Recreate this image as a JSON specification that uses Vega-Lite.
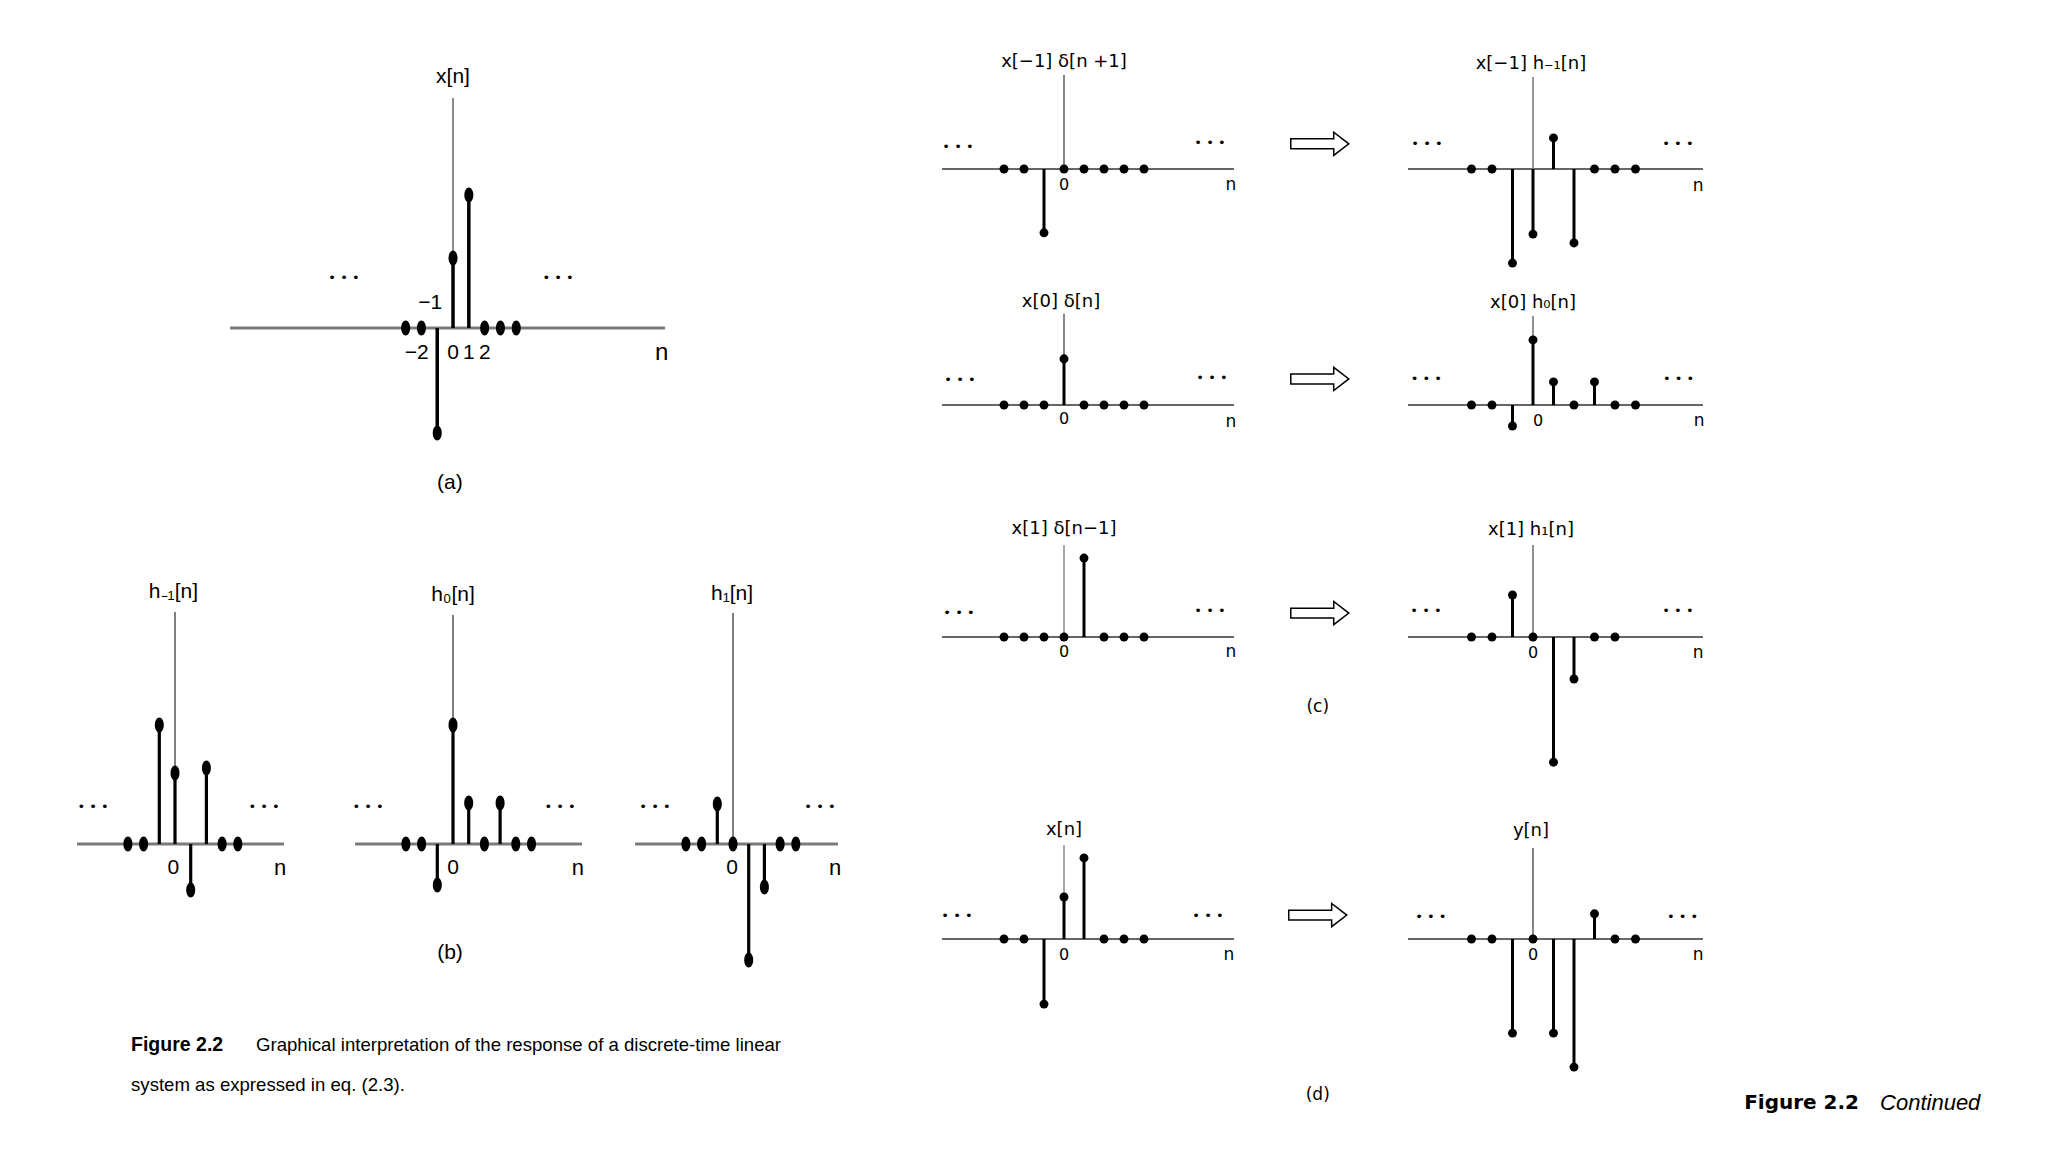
{
"$schema":"https://vega.github.io/schema/vega-lite/v6.json",
"padding":0,
"background":"white",
"config":{"view":{"stroke":null},"axis":{"disable":true},"text":{"font":"DejaVu Sans","fontSize":16,"color":"black"}},
"datasets":{
"one":[{}],
"a":[{"n":-3,"v":0},{"n":-2,"v":0},{"n":-1,"v":-1.5},{"n":0,"v":1},{"n":1,"v":1.9},{"n":2,"v":0},{"n":3,"v":0},{"n":4,"v":0}],
"hm1":[{"n":-3,"v":0},{"n":-2,"v":0},{"n":-1,"v":2.975},{"n":0,"v":1.775},{"n":1,"v":-1.15},{"n":2,"v":1.9},{"n":3,"v":0},{"n":4,"v":0}],
"h0":[{"n":-3,"v":0},{"n":-2,"v":0},{"n":-1,"v":-1.025},{"n":0,"v":2.975},{"n":1,"v":1.025},{"n":2,"v":0},{"n":3,"v":1.025},{"n":4,"v":0},{"n":5,"v":0}],
"h1":[{"n":-3,"v":0},{"n":-2,"v":0},{"n":-1,"v":1.0},{"n":0,"v":0},{"n":1,"v":-2.9},{"n":2,"v":-1.075},{"n":3,"v":0},{"n":4,"v":0}],
"c1l":[{"n":-3,"v":0},{"n":-2,"v":0},{"n":-1,"v":-1.52},{"n":0,"v":0},{"n":1,"v":0},{"n":2,"v":0},{"n":3,"v":0},{"n":4,"v":0}],
"c1r":[{"n":-3,"v":0},{"n":-2,"v":0},{"n":-1,"v":-2.24},{"n":0,"v":-1.55},{"n":1,"v":0.74},{"n":2,"v":-1.76},{"n":3,"v":0},{"n":4,"v":0},{"n":5,"v":0}],
"c2l":[{"n":-3,"v":0},{"n":-2,"v":0},{"n":-1,"v":0},{"n":0,"v":1.1},{"n":1,"v":0},{"n":2,"v":0},{"n":3,"v":0},{"n":4,"v":0}],
"c2r":[{"n":-3,"v":0},{"n":-2,"v":0},{"n":-1,"v":-0.5},{"n":0,"v":1.55},{"n":1,"v":0.55},{"n":2,"v":0},{"n":3,"v":0.55},{"n":4,"v":0},{"n":5,"v":0}],
"c3l":[{"n":-3,"v":0},{"n":-2,"v":0},{"n":-1,"v":0},{"n":0,"v":0},{"n":1,"v":1.88},{"n":2,"v":0},{"n":3,"v":0},{"n":4,"v":0}],
"c3r":[{"n":-3,"v":0},{"n":-2,"v":0},{"n":-1,"v":1.0},{"n":0,"v":0},{"n":1,"v":-2.98},{"n":2,"v":-1.0},{"n":3,"v":0},{"n":4,"v":0}],
"dl":[{"n":-3,"v":0},{"n":-2,"v":0},{"n":-1,"v":-1.55},{"n":0,"v":1.0},{"n":1,"v":1.93},{"n":2,"v":0},{"n":3,"v":0},{"n":4,"v":0}],
"dr":[{"n":-3,"v":0},{"n":-2,"v":0},{"n":-1,"v":-2.24},{"n":0,"v":0},{"n":1,"v":-2.24},{"n":2,"v":-3.05},{"n":3,"v":0.6},{"n":4,"v":0},{"n":5,"v":0}]
},
"bounds":"full",
"spacing":0,
"hconcat":[
{"bounds":"full","spacing":0,"vconcat":[
{"width":700,"height":560,"layer":[
{"data":{"name":"one"},"mark":{"type":"rule","color":"#7a7a7a","strokeWidth":2.8},"encoding":{"x":{"datum":-14.11,"type":"quantitative","scale":{"domain":[-28.67,15.63],"nice":false,"zero":false}},"x2":{"datum":13.42},"y":{"datum":0,"type":"quantitative","scale":{"domain":[-3.314,4.686],"nice":false,"zero":false}}}},
{"data":{"name":"one"},"mark":{"type":"rule","color":"#666","strokeWidth":1.5},"encoding":{"x":{"datum":0,"type":"quantitative"},"y":{"datum":0,"type":"quantitative"},"y2":{"datum":3.286}}},
{"data":{"name":"a"},"mark":{"type":"rule","color":"black","strokeWidth":3.5},"encoding":{"x":{"field":"n","type":"quantitative"},"y":{"field":"v","type":"quantitative"},"y2":{"datum":0}}},
{"data":{"name":"a"},"mark":{"type":"point","filled":true,"opacity":1,"color":"black","shape":"M0,-1A0.6,1,0,1,1,0,1A0.6,1,0,1,1,0,-1Z","size":225},"encoding":{"x":{"field":"n","type":"quantitative"},"y":{"field":"v","type":"quantitative"}}},
{"data":{"name":"one"},"mark":{"type":"text","text":"x[n]","font":"Liberation Sans","fontSize":21},"encoding":{"x":{"datum":0,"type":"quantitative"},"y":{"datum":3.59,"type":"quantitative"}}},
{"data":{"name":"one"},"mark":{"type":"text","text":"−2","font":"Liberation Sans","fontSize":21},"encoding":{"x":{"datum":-2.3,"type":"quantitative"},"y":{"datum":-0.36,"type":"quantitative"}}},
{"data":{"name":"one"},"mark":{"type":"text","text":"0","font":"Liberation Sans","fontSize":21},"encoding":{"x":{"datum":0,"type":"quantitative"},"y":{"datum":-0.36,"type":"quantitative"}}},
{"data":{"name":"one"},"mark":{"type":"text","text":"1","font":"Liberation Sans","fontSize":21},"encoding":{"x":{"datum":1.0,"type":"quantitative"},"y":{"datum":-0.36,"type":"quantitative"}}},
{"data":{"name":"one"},"mark":{"type":"text","text":"2","font":"Liberation Sans","fontSize":21},"encoding":{"x":{"datum":2.02,"type":"quantitative"},"y":{"datum":-0.36,"type":"quantitative"}}},
{"data":{"name":"one"},"mark":{"type":"text","text":"−1","font":"Liberation Sans","fontSize":21},"encoding":{"x":{"datum":-1.45,"type":"quantitative"},"y":{"datum":0.36,"type":"quantitative"}}},
{"data":{"name":"one"},"mark":{"type":"text","text":"n","font":"Liberation Sans","fontSize":24},"encoding":{"x":{"datum":13.2,"type":"quantitative"},"y":{"datum":-0.36,"type":"quantitative"}}},
{"data":{"name":"one"},"mark":{"type":"text","text":"• • •","fontSize":13},"encoding":{"x":{"datum":-6.9,"type":"quantitative"},"y":{"datum":0.714,"type":"quantitative"}}},
{"data":{"name":"one"},"mark":{"type":"text","text":"• • •","fontSize":13},"encoding":{"x":{"datum":6.65,"type":"quantitative"},"y":{"datum":0.714,"type":"quantitative"}}},
{"data":{"name":"one"},"mark":{"type":"text","text":"(a)","font":"Liberation Sans","fontSize":21},"encoding":{"x":{"datum":-0.2,"type":"quantitative"},"y":{"datum":-2.214,"type":"quantitative"}}}
]},
{"bounds":"flush","spacing":0,"hconcat":[
{"width":355,"height":592,"layer":[
{"data":{"name":"one"},"mark":{"type":"rule","color":"#7a7a7a","strokeWidth":2.8},"encoding":{"x":{"datum":-6.24,"type":"quantitative","scale":{"domain":[-11.146,11.465],"nice":false,"zero":false}},"x2":{"datum":6.94},"y":{"datum":0,"type":"quantitative","scale":{"domain":[-7.7,7.1],"nice":false,"zero":false}}}},
{"data":{"name":"one"},"mark":{"type":"rule","color":"#555","strokeWidth":1.5},"encoding":{"x":{"datum":0,"type":"quantitative"},"y":{"datum":0,"type":"quantitative"},"y2":{"datum":5.8}}},
{"data":{"name":"hm1"},"mark":{"type":"rule","color":"black","strokeWidth":3.2},"encoding":{"x":{"field":"n","type":"quantitative"},"y":{"field":"v","type":"quantitative"},"y2":{"datum":0}}},
{"data":{"name":"hm1"},"mark":{"type":"point","filled":true,"opacity":1,"color":"black","shape":"M0,-1A0.6,1,0,1,1,0,1A0.6,1,0,1,1,0,-1Z","size":225},"encoding":{"x":{"field":"n","type":"quantitative"},"y":{"field":"v","type":"quantitative"}}},
{"data":{"name":"one"},"mark":{"type":"text","text":"h₋₁[n]","font":"Liberation Sans","fontSize":21},"encoding":{"x":{"datum":-0.1,"type":"quantitative"},"y":{"datum":6.3,"type":"quantitative"}}},
{"data":{"name":"one"},"mark":{"type":"text","text":"0","font":"Liberation Sans","fontSize":21},"encoding":{"x":{"datum":-0.1,"type":"quantitative"},"y":{"datum":-0.6,"type":"quantitative"}}},
{"data":{"name":"one"},"mark":{"type":"text","text":"n","font":"Liberation Sans","fontSize":22},"encoding":{"x":{"datum":6.69,"type":"quantitative"},"y":{"datum":-0.6,"type":"quantitative"}}},
{"data":{"name":"one"},"mark":{"type":"text","text":"• • •","fontSize":13},"encoding":{"x":{"datum":-5.22,"type":"quantitative"},"y":{"datum":0.925,"type":"quantitative"}}},
{"data":{"name":"one"},"mark":{"type":"text","text":"• • •","fontSize":13},"encoding":{"x":{"datum":5.67,"type":"quantitative"},"y":{"datum":0.925,"type":"quantitative"}}},
{"data":{"name":"one"},"mark":{"type":"text","text":"Figure 2.2","font":"Liberation Sans","fontSize":19.5,"fontWeight":"bold","align":"left"},"encoding":{"x":{"datum":-2.8,"type":"quantitative"},"y":{"datum":-5.025,"type":"quantitative"}}},
{"data":{"name":"one"},"mark":{"type":"text","text":"Graphical interpretation of the response of a discrete-time linear","font":"Liberation Sans","fontSize":18.6,"align":"left"},"encoding":{"x":{"datum":5.16,"type":"quantitative"},"y":{"datum":-5.025,"type":"quantitative"}}},
{"data":{"name":"one"},"mark":{"type":"text","text":"system as expressed in eq. (2.3).","font":"Liberation Sans","fontSize":18.6,"align":"left"},"encoding":{"x":{"datum":-2.8,"type":"quantitative"},"y":{"datum":-6.025,"type":"quantitative"}}}
]},
{"width":280,"height":592,"layer":[
{"data":{"name":"one"},"mark":{"type":"rule","color":"#7a7a7a","strokeWidth":2.8},"encoding":{"x":{"datum":-6.24,"type":"quantitative","scale":{"domain":[-6.242,11.592],"nice":false,"zero":false}},"x2":{"datum":8.22},"y":{"datum":0,"type":"quantitative","scale":{"domain":[-7.7,7.1],"nice":false,"zero":false}}}},
{"data":{"name":"one"},"mark":{"type":"rule","color":"#555","strokeWidth":1.5},"encoding":{"x":{"datum":0,"type":"quantitative"},"y":{"datum":0,"type":"quantitative"},"y2":{"datum":5.725}}},
{"data":{"name":"h0"},"mark":{"type":"rule","color":"black","strokeWidth":3.2},"encoding":{"x":{"field":"n","type":"quantitative"},"y":{"field":"v","type":"quantitative"},"y2":{"datum":0}}},
{"data":{"name":"h0"},"mark":{"type":"point","filled":true,"opacity":1,"color":"black","shape":"M0,-1A0.6,1,0,1,1,0,1A0.6,1,0,1,1,0,-1Z","size":225},"encoding":{"x":{"field":"n","type":"quantitative"},"y":{"field":"v","type":"quantitative"}}},
{"data":{"name":"one"},"mark":{"type":"text","text":"h₀[n]","font":"Liberation Sans","fontSize":21},"encoding":{"x":{"datum":0,"type":"quantitative"},"y":{"datum":6.225,"type":"quantitative"}}},
{"data":{"name":"one"},"mark":{"type":"text","text":"0","font":"Liberation Sans","fontSize":21},"encoding":{"x":{"datum":0,"type":"quantitative"},"y":{"datum":-0.6,"type":"quantitative"}}},
{"data":{"name":"one"},"mark":{"type":"text","text":"n","font":"Liberation Sans","fontSize":22},"encoding":{"x":{"datum":7.96,"type":"quantitative"},"y":{"datum":-0.6,"type":"quantitative"}}},
{"data":{"name":"one"},"mark":{"type":"text","text":"• • •","fontSize":13},"encoding":{"x":{"datum":-5.41,"type":"quantitative"},"y":{"datum":0.925,"type":"quantitative"}}},
{"data":{"name":"one"},"mark":{"type":"text","text":"• • •","fontSize":13},"encoding":{"x":{"datum":6.82,"type":"quantitative"},"y":{"datum":0.925,"type":"quantitative"}}},
{"data":{"name":"one"},"mark":{"type":"text","text":"(b)","font":"Liberation Sans","fontSize":21},"encoding":{"x":{"datum":-0.19,"type":"quantitative"},"y":{"datum":-2.725,"type":"quantitative"}}}
]},
{"width":306,"height":592,"layer":[
{"data":{"name":"one"},"mark":{"type":"rule","color":"#7a7a7a","strokeWidth":2.8},"encoding":{"x":{"datum":-6.24,"type":"quantitative","scale":{"domain":[-6.242,13.248],"nice":false,"zero":false}},"x2":{"datum":6.69},"y":{"datum":0,"type":"quantitative","scale":{"domain":[-7.7,7.1],"nice":false,"zero":false}}}},
{"data":{"name":"one"},"mark":{"type":"rule","color":"#555","strokeWidth":1.5},"encoding":{"x":{"datum":0,"type":"quantitative"},"y":{"datum":0,"type":"quantitative"},"y2":{"datum":5.775}}},
{"data":{"name":"h1"},"mark":{"type":"rule","color":"black","strokeWidth":3.2},"encoding":{"x":{"field":"n","type":"quantitative"},"y":{"field":"v","type":"quantitative"},"y2":{"datum":0}}},
{"data":{"name":"h1"},"mark":{"type":"point","filled":true,"opacity":1,"color":"black","shape":"M0,-1A0.6,1,0,1,1,0,1A0.6,1,0,1,1,0,-1Z","size":225},"encoding":{"x":{"field":"n","type":"quantitative"},"y":{"field":"v","type":"quantitative"}}},
{"data":{"name":"one"},"mark":{"type":"text","text":"h₁[n]","font":"Liberation Sans","fontSize":21},"encoding":{"x":{"datum":-0.06,"type":"quantitative"},"y":{"datum":6.25,"type":"quantitative"}}},
{"data":{"name":"one"},"mark":{"type":"text","text":"0","font":"Liberation Sans","fontSize":21},"encoding":{"x":{"datum":-0.06,"type":"quantitative"},"y":{"datum":-0.6,"type":"quantitative"}}},
{"data":{"name":"one"},"mark":{"type":"text","text":"n","font":"Liberation Sans","fontSize":22},"encoding":{"x":{"datum":6.5,"type":"quantitative"},"y":{"datum":-0.6,"type":"quantitative"}}},
{"data":{"name":"one"},"mark":{"type":"text","text":"• • •","fontSize":13},"encoding":{"x":{"datum":-4.97,"type":"quantitative"},"y":{"datum":0.925,"type":"quantitative"}}},
{"data":{"name":"one"},"mark":{"type":"text","text":"• • •","fontSize":13},"encoding":{"x":{"datum":5.54,"type":"quantitative"},"y":{"datum":0.925,"type":"quantitative"}}}
]}
]}
]},
{"bounds":"full","spacing":0,"vconcat":[
{"bounds":"flush","spacing":0,"hconcat":[
{"width":292,"height":285,"layer":[
{"data":{"name":"one"},"mark":{"type":"rule","color":"#333","strokeWidth":1.5},"encoding":{"x":{"datum":-6.1,"type":"quantitative","scale":{"domain":[-6.1,8.5],"nice":false,"zero":false}},"x2":{"datum":8.5},"y":{"datum":0,"type":"quantitative","scale":{"domain":[-2.762,4.024],"nice":false,"zero":false}}}},
{"data":{"name":"one"},"mark":{"type":"rule","color":"#444","strokeWidth":1.3},"encoding":{"x":{"datum":0,"type":"quantitative"},"y":{"datum":0,"type":"quantitative"},"y2":{"datum":2.24}}},
{"data":{"name":"c1l"},"mark":{"type":"rule","color":"black","strokeWidth":3},"encoding":{"x":{"field":"n","type":"quantitative"},"y":{"field":"v","type":"quantitative"},"y2":{"datum":0}}},
{"data":{"name":"c1l"},"mark":{"type":"point","filled":true,"opacity":1,"color":"black","shape":"circle","size":80},"encoding":{"x":{"field":"n","type":"quantitative"},"y":{"field":"v","type":"quantitative"}}},
{"data":{"name":"one"},"mark":{"type":"text","text":"x[−1] δ[n +1]","fontSize":18},"encoding":{"x":{"datum":0,"type":"quantitative"},"y":{"datum":2.55,"type":"quantitative"}}},
{"data":{"name":"one"},"mark":{"type":"text","text":"0"},"encoding":{"x":{"datum":0,"type":"quantitative"},"y":{"datum":-0.38,"type":"quantitative"}}},
{"data":{"name":"one"},"mark":{"type":"text","text":"n","fontSize":17},"encoding":{"x":{"datum":8.35,"type":"quantitative"},"y":{"datum":-0.38,"type":"quantitative"}}},
{"data":{"name":"one"},"mark":{"type":"text","text":"• • •","fontSize":13},"encoding":{"x":{"datum":-5.3,"type":"quantitative"},"y":{"datum":0.52,"type":"quantitative"}}},
{"data":{"name":"one"},"mark":{"type":"text","text":"• • •","fontSize":13},"encoding":{"x":{"datum":7.3,"type":"quantitative"},"y":{"datum":0.62,"type":"quantitative"}}}
]},
{"width":815,"height":285,"layer":[
{"data":{"name":"one"},"mark":{"type":"rule","color":"#333","strokeWidth":1.5},"encoding":{"x":{"datum":-6.1,"type":"quantitative","scale":{"domain":[-14.585,25.171],"nice":false,"zero":false}},"x2":{"datum":8.29},"y":{"datum":0,"type":"quantitative","scale":{"domain":[-2.762,4.024],"nice":false,"zero":false}}}},
{"data":{"name":"one"},"mark":{"type":"rule","color":"#777","strokeWidth":1.5},"encoding":{"x":{"datum":0,"type":"quantitative"},"y":{"datum":0,"type":"quantitative"},"y2":{"datum":2.19}}},
{"data":{"name":"c1r"},"mark":{"type":"rule","color":"black","strokeWidth":3},"encoding":{"x":{"field":"n","type":"quantitative"},"y":{"field":"v","type":"quantitative"},"y2":{"datum":0}}},
{"data":{"name":"c1r"},"mark":{"type":"point","filled":true,"opacity":1,"color":"black","shape":"circle","size":80},"encoding":{"x":{"field":"n","type":"quantitative"},"y":{"field":"v","type":"quantitative"}}},
{"data":{"name":"one"},"mark":{"type":"text","text":"x[−1] h₋₁[n]","fontSize":18},"encoding":{"x":{"datum":-0.1,"type":"quantitative"},"y":{"datum":2.5,"type":"quantitative"}}},
{"data":{"name":"one"},"mark":{"type":"text","text":"n","fontSize":17},"encoding":{"x":{"datum":8.05,"type":"quantitative"},"y":{"datum":-0.4,"type":"quantitative"}}},
{"data":{"name":"one"},"mark":{"type":"text","text":"• • •","fontSize":13},"encoding":{"x":{"datum":-5.17,"type":"quantitative"},"y":{"datum":0.6,"type":"quantitative"}}},
{"data":{"name":"one"},"mark":{"type":"text","text":"• • •","fontSize":13},"encoding":{"x":{"datum":7.07,"type":"quantitative"},"y":{"datum":0.6,"type":"quantitative"}}},
{"data":{"name":"one"},"mark":{"type":"point","filled":true,"opacity":1,"fill":"white","stroke":"black","strokeWidth":1.5,"shape":"M-1,-0.17L0.48,-0.17L0.48,-0.4L1,0L0.48,0.4L0.48,0.17L-1,0.17Z","size":3364},"encoding":{"x":{"datum":-10.4,"type":"quantitative"},"y":{"datum":0.6,"type":"quantitative"}}}
]}
]},
{"bounds":"flush","spacing":0,"hconcat":[
{"width":292,"height":215,"layer":[
{"data":{"name":"one"},"mark":{"type":"rule","color":"#333","strokeWidth":1.5},"encoding":{"x":{"datum":-6.1,"type":"quantitative","scale":{"domain":[-6.1,8.5],"nice":false,"zero":false}},"x2":{"datum":8.5},"y":{"datum":0,"type":"quantitative","scale":{"domain":[-2.262,2.857],"nice":false,"zero":false}}}},
{"data":{"name":"one"},"mark":{"type":"rule","color":"#444","strokeWidth":1.3},"encoding":{"x":{"datum":0,"type":"quantitative"},"y":{"datum":0,"type":"quantitative"},"y2":{"datum":2.17}}},
{"data":{"name":"c2l"},"mark":{"type":"rule","color":"black","strokeWidth":3},"encoding":{"x":{"field":"n","type":"quantitative"},"y":{"field":"v","type":"quantitative"},"y2":{"datum":0}}},
{"data":{"name":"c2l"},"mark":{"type":"point","filled":true,"opacity":1,"color":"black","shape":"circle","size":80},"encoding":{"x":{"field":"n","type":"quantitative"},"y":{"field":"v","type":"quantitative"}}},
{"data":{"name":"one"},"mark":{"type":"text","text":"x[0] δ[n]","fontSize":18},"encoding":{"x":{"datum":-0.15,"type":"quantitative"},"y":{"datum":2.45,"type":"quantitative"}}},
{"data":{"name":"one"},"mark":{"type":"text","text":"0"},"encoding":{"x":{"datum":0,"type":"quantitative"},"y":{"datum":-0.33,"type":"quantitative"}}},
{"data":{"name":"one"},"mark":{"type":"text","text":"n","fontSize":17},"encoding":{"x":{"datum":8.35,"type":"quantitative"},"y":{"datum":-0.4,"type":"quantitative"}}},
{"data":{"name":"one"},"mark":{"type":"text","text":"• • •","fontSize":13},"encoding":{"x":{"datum":-5.2,"type":"quantitative"},"y":{"datum":0.6,"type":"quantitative"}}},
{"data":{"name":"one"},"mark":{"type":"text","text":"• • •","fontSize":13},"encoding":{"x":{"datum":7.4,"type":"quantitative"},"y":{"datum":0.64,"type":"quantitative"}}}
]},
{"width":815,"height":215,"layer":[
{"data":{"name":"one"},"mark":{"type":"rule","color":"#333","strokeWidth":1.5},"encoding":{"x":{"datum":-6.1,"type":"quantitative","scale":{"domain":[-14.585,25.171],"nice":false,"zero":false}},"x2":{"datum":8.29},"y":{"datum":0,"type":"quantitative","scale":{"domain":[-2.262,2.857],"nice":false,"zero":false}}}},
{"data":{"name":"one"},"mark":{"type":"rule","color":"#555","strokeWidth":1.3},"encoding":{"x":{"datum":0,"type":"quantitative"},"y":{"datum":0,"type":"quantitative"},"y2":{"datum":2.12}}},
{"data":{"name":"c2r"},"mark":{"type":"rule","color":"black","strokeWidth":3},"encoding":{"x":{"field":"n","type":"quantitative"},"y":{"field":"v","type":"quantitative"},"y2":{"datum":0}}},
{"data":{"name":"c2r"},"mark":{"type":"point","filled":true,"opacity":1,"color":"black","shape":"circle","size":80},"encoding":{"x":{"field":"n","type":"quantitative"},"y":{"field":"v","type":"quantitative"}}},
{"data":{"name":"one"},"mark":{"type":"text","text":"x[0] h₀[n]","fontSize":18},"encoding":{"x":{"datum":0,"type":"quantitative"},"y":{"datum":2.43,"type":"quantitative"}}},
{"data":{"name":"one"},"mark":{"type":"text","text":"0"},"encoding":{"x":{"datum":0.25,"type":"quantitative"},"y":{"datum":-0.38,"type":"quantitative"}}},
{"data":{"name":"one"},"mark":{"type":"text","text":"n","fontSize":17},"encoding":{"x":{"datum":8.1,"type":"quantitative"},"y":{"datum":-0.38,"type":"quantitative"}}},
{"data":{"name":"one"},"mark":{"type":"text","text":"• • •","fontSize":13},"encoding":{"x":{"datum":-5.2,"type":"quantitative"},"y":{"datum":0.62,"type":"quantitative"}}},
{"data":{"name":"one"},"mark":{"type":"text","text":"• • •","fontSize":13},"encoding":{"x":{"datum":7.1,"type":"quantitative"},"y":{"datum":0.62,"type":"quantitative"}}},
{"data":{"name":"one"},"mark":{"type":"point","filled":true,"opacity":1,"fill":"white","stroke":"black","strokeWidth":1.5,"shape":"M-1,-0.17L0.48,-0.17L0.48,-0.4L1,0L0.48,0.4L0.48,0.17L-1,0.17Z","size":3364},"encoding":{"x":{"datum":-10.4,"type":"quantitative"},"y":{"datum":0.62,"type":"quantitative"}}}
]}
]},
{"bounds":"flush","spacing":0,"hconcat":[
{"width":292,"height":300,"layer":[
{"data":{"name":"one"},"mark":{"type":"rule","color":"#333","strokeWidth":1.5},"encoding":{"x":{"datum":-6.1,"type":"quantitative","scale":{"domain":[-6.1,8.5],"nice":false,"zero":false}},"x2":{"datum":8.5},"y":{"datum":0,"type":"quantitative","scale":{"domain":[-3.881,3.262],"nice":false,"zero":false}}}},
{"data":{"name":"one"},"mark":{"type":"rule","color":"#777","strokeWidth":1.3},"encoding":{"x":{"datum":0,"type":"quantitative"},"y":{"datum":0,"type":"quantitative"},"y2":{"datum":2.19}}},
{"data":{"name":"c3l"},"mark":{"type":"rule","color":"black","strokeWidth":3},"encoding":{"x":{"field":"n","type":"quantitative"},"y":{"field":"v","type":"quantitative"},"y2":{"datum":0}}},
{"data":{"name":"c3l"},"mark":{"type":"point","filled":true,"opacity":1,"color":"black","shape":"circle","size":80},"encoding":{"x":{"field":"n","type":"quantitative"},"y":{"field":"v","type":"quantitative"}}},
{"data":{"name":"one"},"mark":{"type":"text","text":"x[1] δ[n−1]","fontSize":18},"encoding":{"x":{"datum":0,"type":"quantitative"},"y":{"datum":2.57,"type":"quantitative"}}},
{"data":{"name":"one"},"mark":{"type":"text","text":"0"},"encoding":{"x":{"datum":0,"type":"quantitative"},"y":{"datum":-0.36,"type":"quantitative"}}},
{"data":{"name":"one"},"mark":{"type":"text","text":"n","fontSize":17},"encoding":{"x":{"datum":8.35,"type":"quantitative"},"y":{"datum":-0.36,"type":"quantitative"}}},
{"data":{"name":"one"},"mark":{"type":"text","text":"• • •","fontSize":13},"encoding":{"x":{"datum":-5.25,"type":"quantitative"},"y":{"datum":0.57,"type":"quantitative"}}},
{"data":{"name":"one"},"mark":{"type":"text","text":"• • •","fontSize":13},"encoding":{"x":{"datum":7.3,"type":"quantitative"},"y":{"datum":0.62,"type":"quantitative"}}}
]},
{"width":815,"height":300,"layer":[
{"data":{"name":"one"},"mark":{"type":"rule","color":"#333","strokeWidth":1.5},"encoding":{"x":{"datum":-6.1,"type":"quantitative","scale":{"domain":[-14.585,25.171],"nice":false,"zero":false}},"x2":{"datum":8.29},"y":{"datum":0,"type":"quantitative","scale":{"domain":[-3.881,3.262],"nice":false,"zero":false}}}},
{"data":{"name":"one"},"mark":{"type":"rule","color":"#555","strokeWidth":1.3},"encoding":{"x":{"datum":0,"type":"quantitative"},"y":{"datum":0,"type":"quantitative"},"y2":{"datum":2.19}}},
{"data":{"name":"c3r"},"mark":{"type":"rule","color":"black","strokeWidth":3},"encoding":{"x":{"field":"n","type":"quantitative"},"y":{"field":"v","type":"quantitative"},"y2":{"datum":0}}},
{"data":{"name":"c3r"},"mark":{"type":"point","filled":true,"opacity":1,"color":"black","shape":"circle","size":80},"encoding":{"x":{"field":"n","type":"quantitative"},"y":{"field":"v","type":"quantitative"}}},
{"data":{"name":"one"},"mark":{"type":"text","text":"x[1] h₁[n]","fontSize":18},"encoding":{"x":{"datum":-0.1,"type":"quantitative"},"y":{"datum":2.55,"type":"quantitative"}}},
{"data":{"name":"one"},"mark":{"type":"text","text":"0"},"encoding":{"x":{"datum":0,"type":"quantitative"},"y":{"datum":-0.38,"type":"quantitative"}}},
{"data":{"name":"one"},"mark":{"type":"text","text":"n","fontSize":17},"encoding":{"x":{"datum":8.05,"type":"quantitative"},"y":{"datum":-0.38,"type":"quantitative"}}},
{"data":{"name":"one"},"mark":{"type":"text","text":"• • •","fontSize":13},"encoding":{"x":{"datum":-5.22,"type":"quantitative"},"y":{"datum":0.62,"type":"quantitative"}}},
{"data":{"name":"one"},"mark":{"type":"text","text":"• • •","fontSize":13},"encoding":{"x":{"datum":7.07,"type":"quantitative"},"y":{"datum":0.62,"type":"quantitative"}}},
{"data":{"name":"one"},"mark":{"type":"point","filled":true,"opacity":1,"fill":"white","stroke":"black","strokeWidth":1.5,"shape":"M-1,-0.17L0.48,-0.17L0.48,-0.4L1,0L0.48,0.4L0.48,0.17L-1,0.17Z","size":3364},"encoding":{"x":{"datum":-10.4,"type":"quantitative"},"y":{"datum":0.57,"type":"quantitative"}}},
{"data":{"name":"one"},"mark":{"type":"text","text":"(c)","fontSize":17},"encoding":{"x":{"datum":-10.5,"type":"quantitative"},"y":{"datum":-1.67,"type":"quantitative"}}}
]}
]},
{"bounds":"flush","spacing":0,"hconcat":[
{"width":292,"height":352,"layer":[
{"data":{"name":"one"},"mark":{"type":"rule","color":"#333","strokeWidth":1.5},"encoding":{"x":{"datum":-6.1,"type":"quantitative","scale":{"domain":[-6.1,8.5],"nice":false,"zero":false}},"x2":{"datum":8.5},"y":{"datum":0,"type":"quantitative","scale":{"domain":[-5.071,3.31],"nice":false,"zero":false}}}},
{"data":{"name":"one"},"mark":{"type":"rule","color":"#777","strokeWidth":1.3},"encoding":{"x":{"datum":0,"type":"quantitative"},"y":{"datum":0,"type":"quantitative"},"y2":{"datum":2.24}}},
{"data":{"name":"dl"},"mark":{"type":"rule","color":"black","strokeWidth":3},"encoding":{"x":{"field":"n","type":"quantitative"},"y":{"field":"v","type":"quantitative"},"y2":{"datum":0}}},
{"data":{"name":"dl"},"mark":{"type":"point","filled":true,"opacity":1,"color":"black","shape":"circle","size":80},"encoding":{"x":{"field":"n","type":"quantitative"},"y":{"field":"v","type":"quantitative"}}},
{"data":{"name":"one"},"mark":{"type":"text","text":"x[n]","fontSize":18},"encoding":{"x":{"datum":0,"type":"quantitative"},"y":{"datum":2.6,"type":"quantitative"}}},
{"data":{"name":"one"},"mark":{"type":"text","text":"0"},"encoding":{"x":{"datum":0,"type":"quantitative"},"y":{"datum":-0.38,"type":"quantitative"}}},
{"data":{"name":"one"},"mark":{"type":"text","text":"n","fontSize":17},"encoding":{"x":{"datum":8.25,"type":"quantitative"},"y":{"datum":-0.38,"type":"quantitative"}}},
{"data":{"name":"one"},"mark":{"type":"text","text":"• • •","fontSize":13},"encoding":{"x":{"datum":-5.35,"type":"quantitative"},"y":{"datum":0.55,"type":"quantitative"}}},
{"data":{"name":"one"},"mark":{"type":"text","text":"• • •","fontSize":13},"encoding":{"x":{"datum":7.2,"type":"quantitative"},"y":{"datum":0.55,"type":"quantitative"}}}
]},
{"width":815,"height":352,"layer":[
{"data":{"name":"one"},"mark":{"type":"rule","color":"#333","strokeWidth":1.5},"encoding":{"x":{"datum":-6.1,"type":"quantitative","scale":{"domain":[-14.585,25.171],"nice":false,"zero":false}},"x2":{"datum":8.29},"y":{"datum":0,"type":"quantitative","scale":{"domain":[-5.071,3.31],"nice":false,"zero":false}}}},
{"data":{"name":"one"},"mark":{"type":"rule","color":"#444","strokeWidth":1.3},"encoding":{"x":{"datum":0,"type":"quantitative"},"y":{"datum":0,"type":"quantitative"},"y2":{"datum":2.17}}},
{"data":{"name":"dr"},"mark":{"type":"rule","color":"black","strokeWidth":3},"encoding":{"x":{"field":"n","type":"quantitative"},"y":{"field":"v","type":"quantitative"},"y2":{"datum":0}}},
{"data":{"name":"dr"},"mark":{"type":"point","filled":true,"opacity":1,"color":"black","shape":"circle","size":80},"encoding":{"x":{"field":"n","type":"quantitative"},"y":{"field":"v","type":"quantitative"}}},
{"data":{"name":"one"},"mark":{"type":"text","text":"y[n]","fontSize":18},"encoding":{"x":{"datum":-0.1,"type":"quantitative"},"y":{"datum":2.57,"type":"quantitative"}}},
{"data":{"name":"one"},"mark":{"type":"text","text":"0"},"encoding":{"x":{"datum":0,"type":"quantitative"},"y":{"datum":-0.38,"type":"quantitative"}}},
{"data":{"name":"one"},"mark":{"type":"text","text":"n","fontSize":17},"encoding":{"x":{"datum":8.05,"type":"quantitative"},"y":{"datum":-0.38,"type":"quantitative"}}},
{"data":{"name":"one"},"mark":{"type":"text","text":"• • •","fontSize":13},"encoding":{"x":{"datum":-4.98,"type":"quantitative"},"y":{"datum":0.52,"type":"quantitative"}}},
{"data":{"name":"one"},"mark":{"type":"text","text":"• • •","fontSize":13},"encoding":{"x":{"datum":7.3,"type":"quantitative"},"y":{"datum":0.52,"type":"quantitative"}}},
{"data":{"name":"one"},"mark":{"type":"point","filled":true,"opacity":1,"fill":"white","stroke":"black","strokeWidth":1.5,"shape":"M-1,-0.17L0.48,-0.17L0.48,-0.4L1,0L0.48,0.4L0.48,0.17L-1,0.17Z","size":3364},"encoding":{"x":{"datum":-10.5,"type":"quantitative"},"y":{"datum":0.57,"type":"quantitative"}}},
{"data":{"name":"one"},"mark":{"type":"text","text":"(d)","fontSize":17},"encoding":{"x":{"datum":-10.5,"type":"quantitative"},"y":{"datum":-3.71,"type":"quantitative"}}},
{"data":{"name":"one"},"mark":{"type":"text","text":"Figure 2.2","fontSize":20,"fontWeight":"bold","align":"left"},"encoding":{"x":{"datum":10.3,"type":"quantitative"},"y":{"datum":-3.9,"type":"quantitative"}}},
{"data":{"name":"one"},"mark":{"type":"text","text":"Continued","font":"Liberation Sans","fontSize":22,"fontStyle":"italic","align":"left"},"encoding":{"x":{"datum":16.93,"type":"quantitative"},"y":{"datum":-3.9,"type":"quantitative"}}}
]}
]}
]}
]
}
